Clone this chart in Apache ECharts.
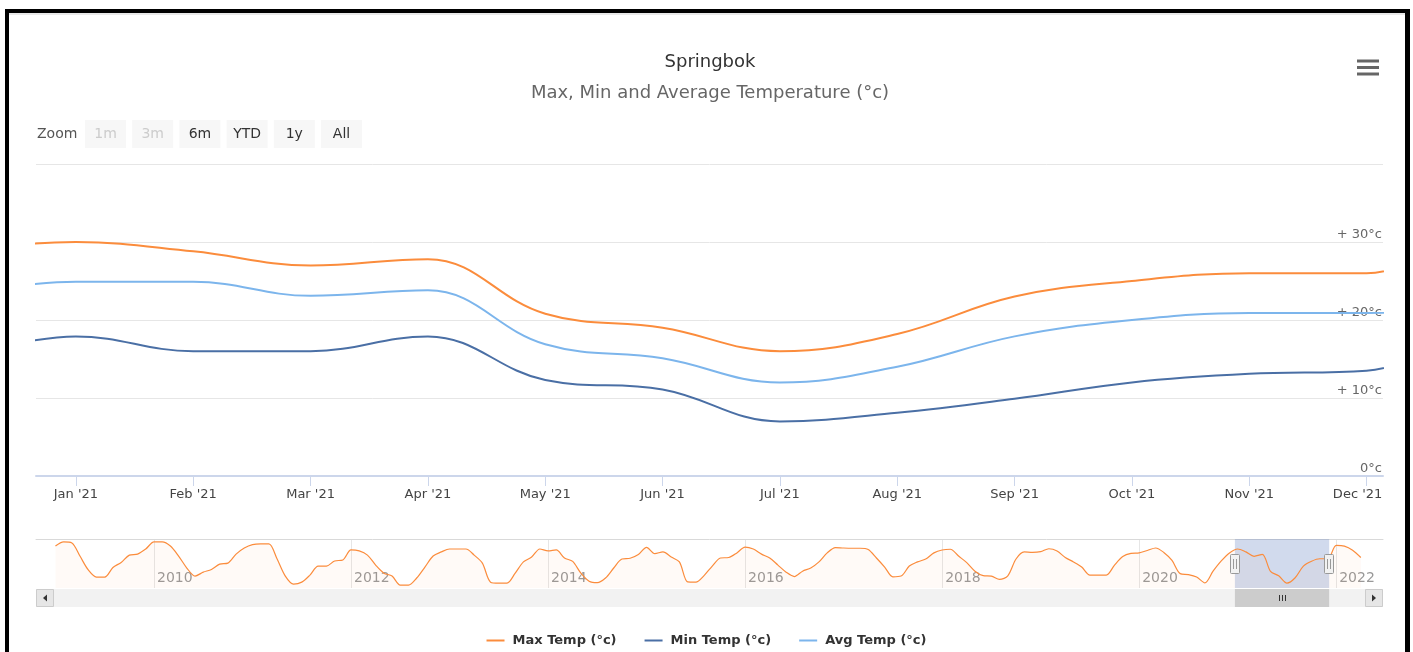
<!DOCTYPE html>
<html><head><meta charset="utf-8">
<script src="https://cdn.jsdelivr.net/npm/echarts@6/dist/echarts.min.js"></script>
<style>
html,body{margin:0;padding:0;background:#fff;overflow:hidden;width:1413px;height:652px;}
#chart{position:absolute;left:0;top:0;width:1413px;height:652px;}
#frame{position:absolute;left:5px;top:9px;width:1396px;height:700px;border-left:4px solid #000;border-top:4px solid #000;border-right:5px solid #000;pointer-events:none;}
#frame:after{content:'';position:absolute;left:0;right:0;top:0;height:2px;background:#e8e8e8;}
</style></head><body>
<div id="chart"></div><div id="frame"></div>
<script>
// ---------- data ----------
const FIRST_YEAR = 2009;           // month index 0 = Jan 2009
// Max temperature, monthly, Jan 2009 .. Apr 2022 (also used by the navigator)
const maxTemp2009 = [31.2, 32.9, 32.5, 27.0, 21.4, 18.5, 18.5, 22.4, 24.5, 27.5, 27.9, 30.0];
const maxTemp2010 = [32.9, 32.9, 31.2, 27.1, 22.2, 18.9, 20.5, 21.6, 23.8, 24.2, 27.9, 30.4];
const maxTemp2011 = [31.8, 32.1, 32.1, 25.9, 18.9, 15.6, 16.4, 19.3, 23.0, 23.0, 25.1, 25.5];
const maxTemp2012 = [29.6, 29.2, 27.5, 23.4, 20.1, 18.9, 15.2, 15.2, 18.1, 22.6, 27.1, 28.8];
const maxTemp2013 = [30.0, 30.0, 30.0, 27.5, 24.2, 16.4, 16.0, 16.0, 20.1, 24.7, 26.7, 30.0];
const maxTemp2014 = [29.2, 29.6, 26.3, 24.9, 20.1, 16.8, 16.2, 18.1, 22.2, 25.9, 26.2, 27.7];
const maxTemp2015 = [30.7, 28.1, 28.8, 26.7, 24.7, 16.5, 16.4, 19.1, 23.0, 26.3, 26.5, 28.4];
const maxTemp2016 = [30.8, 30.0, 27.9, 26.3, 23.4, 20.5, 18.7, 20.9, 22.2, 24.7, 28.4, 30.6];
const maxTemp2017 = [30.4, 30.3, 30.3, 29.8, 26.3, 22.6, 18.6, 18.9, 23.0, 24.7, 25.9, 28.4];
const maxTemp2018 = [29.6, 29.9, 27.1, 24.4, 20.9, 19.1, 18.9, 17.5, 19.0, 25.9, 28.8, 28.6];
const maxTemp2019 = [28.9, 30.1, 29.2, 26.5, 24.7, 22.6, 19.3, 19.3, 19.3, 23.4, 26.9, 28.2];
const maxTemp2020 = [28.4, 29.4, 30.4, 28.6, 25.3, 19.9, 19.5, 18.5, 16.1, 20.9, 25.1, 28.4];
const maxTemp2021 = [30.0, 28.8, 27.0, 27.8, 20.8, 19.0, 16.0, 18.2, 23.0, 25.0, 26.0, 26.0];
const maxTemp2022 = [31.5, 31.2, 29.5, 26.5];
// Min / Avg, Dec '20 .. Jan '22
const minAvgStart = 143;           // month index of Dec '20
const minTemp = [15.0, 17.9, 16.0, 16.0, 17.9, 12.3, 11.1, 7.0, 8.1, 9.9, 12.0, 13.1, 13.5, 20.0];
const avgTemp = [23.3, 24.9, 24.9, 23.1, 23.8, 16.9, 15.1, 12.0, 14.0, 17.9, 20.0, 20.9, 20.9, 21.5];
// axis labels
const viewStart = 144;             // month index of Jan '21
const viewMonths = ["Jan '21","Feb '21","Mar '21","Apr '21","May '21","Jun '21","Jul '21","Aug '21","Sep '21","Oct '21","Nov '21","Dec '21"];
const navYears = [2010, 2012, 2014, 2016, 2018, 2020, 2022];
const zoomButtons = ['1m', '3m', '6m', 'YTD', '1y', 'All'];
const zoomDisabled = ['1m', '3m'];
const seriesNames = ['Max Temp (°c)', 'Min Temp (°c)', 'Avg Temp (°c)'];

// ---------- build ----------
const FONT = 'DejaVu Sans';
const C_MAX = '#fb8c3c', C_MIN = '#4a6fa5', C_AVG = '#7cb5ec';
const maxTemp = [].concat(maxTemp2009, maxTemp2010, maxTemp2011, maxTemp2012, maxTemp2013, maxTemp2014,
  maxTemp2015, maxTemp2016, maxTemp2017, maxTemp2018, maxTemp2019, maxTemp2020, maxTemp2021, maxTemp2022);
const maxData = maxTemp.map((v, i) => [i, v]);
const minData = minTemp.map((v, i) => [minAvgStart + i, v]);
const avgData = avgTemp.map((v, i) => [minAvgStart + i, v]);
const viewTicks = viewMonths.map((_, i) => viewStart + i);
const navTicks = navYears.map(y => (y - FIRST_YEAR) * 12);
const viewMin = 143.66, viewMax = 155.14;
const navMin = -2.37, navMax = 161.7;
const lastTick = viewTicks[viewTicks.length - 1];

const chart = echarts.init(document.getElementById('chart'), null, {renderer: 'canvas'});
const option = {
  animation: false,
  backgroundColor: 'transparent',
  textStyle: {fontFamily: FONT},
  grid: [
    {left: 36, top: 164, width: 1347, height: 312},
    {left: 36, top: 539, width: 1347, height: 49}
  ],
  xAxis: [
    {gridIndex: 0, type: 'value', min: viewMin, max: viewMax,
     axisLine: {show: true, onZero: false, lineStyle: {color: '#ccd6eb', width: 2}},
     axisTick: {show: true, length: 10, customValues: viewTicks, lineStyle: {color: '#ccd6eb', width: 1}},
     axisLabel: {customValues: viewTicks,
                 formatter: v => {
                   const t = viewMonths[Math.round(v) - viewStart];
                   return Math.round(v) === lastTick ? '{last|' + t + '}' : t;
                 },
                 rich: {last: {padding: [0, 18, 0, 0], color: '#444', fontSize: 13, fontFamily: FONT}},
                 color: '#444', fontSize: 13, fontFamily: FONT, margin: 12},
     splitLine: {show: false}},
    {gridIndex: 1, type: 'value', min: navMin, max: navMax,
     axisLine: {show: false},
     axisTick: {show: false, customValues: navTicks},
     axisLabel: {inside: true, customValues: navTicks, formatter: v => String(FIRST_YEAR + v / 12),
                 align: 'left', padding: [0, 0, 0, 3], margin: 3, color: '#999', fontSize: 14, fontFamily: FONT},
     splitLine: {show: true, lineStyle: {color: '#e6e6e6', width: 1}}},
    {gridIndex: 1, type: 'value', position: 'top', min: navMin, max: navMax,
     axisLine: {show: true, onZero: false, lineStyle: {color: '#d9d9d9', width: 1}},
     axisTick: {show: false}, axisLabel: {show: false}, splitLine: {show: false}}
  ],
  yAxis: [
    {gridIndex: 0, type: 'value', min: 0, max: 40, interval: 10, position: 'right',
     axisLine: {show: false}, axisTick: {show: false},
     splitLine: {lineStyle: {color: '#e6e6e6', width: 1}},
     axisLabel: {inside: true, showMaxLabel: false, margin: 1, verticalAlign: 'bottom', lineHeight: 14,
                 color: '#666', fontSize: 13, fontFamily: FONT,
                 formatter: v => (v > 0 ? '+ ' : '') + v + '°c'}},
    {gridIndex: 1, type: 'value', min: 14, max: 34.1, show: false}
  ],
  legend: {
    data: seriesNames, left: 'center', top: 629, icon: 'rect', itemWidth: 18, itemHeight: 2, itemGap: 28,
    textStyle: {fontFamily: FONT, fontSize: 13, fontWeight: 'bold', color: '#333', padding: [0, 0, 0, 3]},
    selectedMode: false
  },
  series: [
    {name: seriesNames[0], type: 'line', xAxisIndex: 0, yAxisIndex: 0, data: maxData, smooth: 0.4,
     showSymbol: false, clip: true, color: C_MAX, lineStyle: {width: 2, color: C_MAX}, z: 3},
    {name: seriesNames[1], type: 'line', xAxisIndex: 0, yAxisIndex: 0, data: minData, smooth: 0.4,
     showSymbol: false, clip: true, color: C_MIN, lineStyle: {width: 2, color: C_MIN}, z: 3},
    {name: seriesNames[2], type: 'line', xAxisIndex: 0, yAxisIndex: 0, data: avgData, smooth: 0.4,
     showSymbol: false, clip: true, color: C_AVG, lineStyle: {width: 2, color: C_AVG}, z: 3},
    {name: 'Navigator', type: 'line', xAxisIndex: 1, yAxisIndex: 1, data: maxData, smooth: 0.3,
     showSymbol: false, silent: true, color: C_MAX, lineStyle: {width: 1.2, color: C_MAX},
     areaStyle: {color: 'rgba(251,140,60,0.06)'},
     markArea: {silent: true, itemStyle: {color: 'rgba(102,133,194,0.3)'},
                data: [[{xAxis: viewMin}, {xAxis: viewMax}]]}}
  ]
};
chart.setOption(option);

// ---------- UI decorations (title, zoom buttons, menu, navigator handles, scrollbar) ----------
const L = chart.convertToPixel({xAxisIndex: 1}, viewMin);
const R = chart.convertToPixel({xAxisIndex: 1}, viewMax);
const g = [];
g.push({type: 'text', x: 710, y: 62, z: 100, style: {text: 'Springbok', fontFamily: FONT, fontSize: 18, fill: '#333', align: 'center', verticalAlign: 'middle'}});
g.push({type: 'text', x: 710, y: 93, z: 100, style: {text: 'Max, Min and Average Temperature (°c)', fontFamily: FONT, fontSize: 18, fill: '#666', align: 'center', verticalAlign: 'middle'}});
[59.5, 66, 72.5].forEach(y => g.push({type: 'rect', z: 100, shape: {x: 1357, y: y, width: 22, height: 3}, style: {fill: '#666'}}));
g.push({type: 'text', x: 37, y: 134, z: 100, style: {text: 'Zoom', fontFamily: FONT, fontSize: 14, fill: '#555', align: 'left', verticalAlign: 'middle'}});
zoomButtons.forEach((b, i) => {
  const x0 = 85 + i * 47.2;
  g.push({type: 'rect', z: 100, shape: {x: x0, y: 120, width: 41, height: 28}, style: {fill: '#f7f7f7'}});
  g.push({type: 'text', z: 101, x: x0 + 20.5, y: 134, style: {text: b, fontFamily: FONT, fontSize: 14,
    fill: zoomDisabled.includes(b) ? '#cccccc' : '#333', align: 'center', verticalAlign: 'middle'}});
});
// scrollbar
const sbY = 589, sbH = 18;
g.push({type: 'rect', z: 100, shape: {x: 36, y: sbY, width: 1347, height: sbH}, style: {fill: '#f2f2f2'}});
g.push({type: 'rect', z: 101, shape: {x: L, y: sbY, width: R - L, height: sbH}, style: {fill: '#cccccc'}});
[-3, 0, 3].forEach(d => g.push({type: 'line', z: 102, shape: {x1: Math.round((L + R) / 2) + d + 0.5, y1: sbY + 6, x2: Math.round((L + R) / 2) + d + 0.5, y2: sbY + 12}, style: {stroke: '#333', lineWidth: 1}}));
g.push({type: 'rect', z: 101, shape: {x: 36.5, y: sbY + 0.5, width: 17, height: sbH - 1}, style: {fill: '#e6e6e6', stroke: '#cccccc', lineWidth: 1}});
g.push({type: 'rect', z: 101, shape: {x: 1365.5, y: sbY + 0.5, width: 17, height: sbH - 1}, style: {fill: '#e6e6e6', stroke: '#cccccc', lineWidth: 1}});
g.push({type: 'polygon', z: 102, shape: {points: [[43, sbY + 9], [47, sbY + 5.5], [47, sbY + 12.5]]}, style: {fill: '#333'}});
g.push({type: 'polygon', z: 102, shape: {points: [[1376, sbY + 9], [1372, sbY + 5.5], [1372, sbY + 12.5]]}, style: {fill: '#333'}});
// navigator handles
[L, R].forEach(x => {
  g.push({type: 'rect', z: 103, shape: {x: Math.round(x) - 4.5, y: 554.5, width: 9, height: 19, r: 1}, style: {fill: '#f2f2f2', stroke: '#999', lineWidth: 1}});
  [-1.5, 1.5].forEach(d => g.push({type: 'line', z: 104, shape: {x1: Math.round(x) + d, y1: 559, x2: Math.round(x) + d, y2: 569}, style: {stroke: '#999', lineWidth: 1}}));
});
chart.setOption({graphic: g});
</script>
</body></html>
